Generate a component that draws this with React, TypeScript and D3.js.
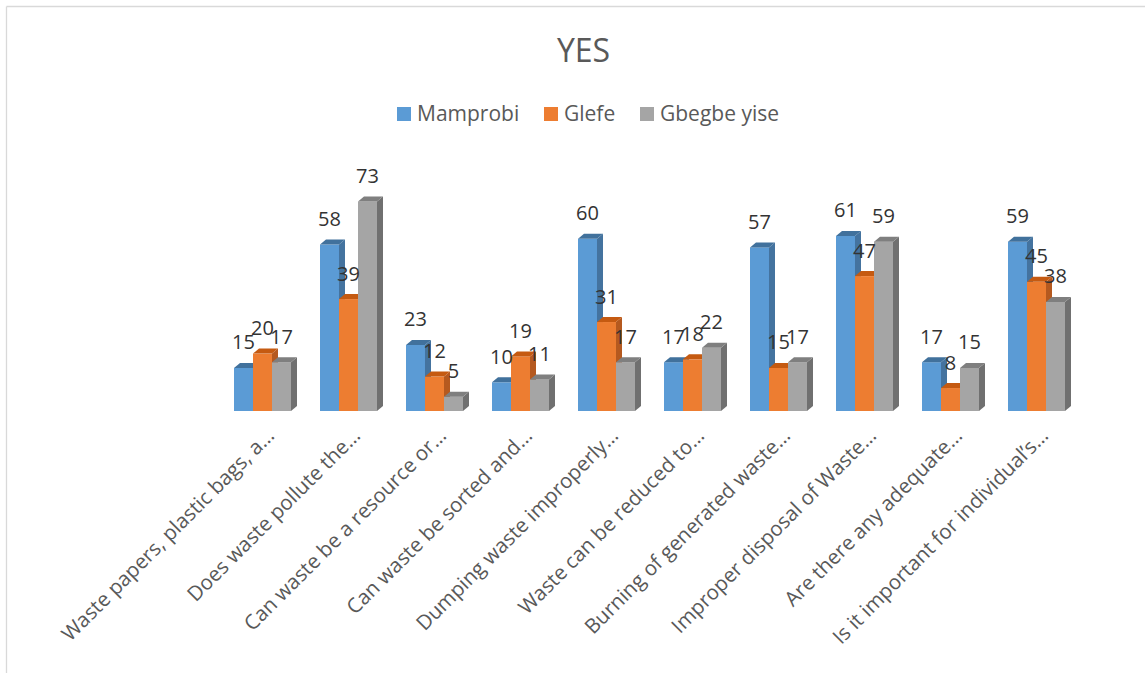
import React from "react";
import * as d3 from "d3";

const categories = [
  "Waste papers, plastic bags, a…",
  "Does waste pollute the…",
  "Can waste be a resource or…",
  "Can waste be sorted and…",
  "Dumping waste improperly…",
  "Waste can be reduced to…",
  "Burning of generated waste…",
  "Improper disposal of Waste…",
  "Are there any adequate…",
  "Is it important for individual’s…",
];
const seriesNames = ["Mamprobi", "Glefe", "Gbegbe yise"];
const mamprobi = [15, 58, 23, 10, 60, 17, 57, 61, 17, 59];
const glefe = [20, 39, 12, 19, 31, 18, 15, 47, 8, 45];
const gbegbe = [17, 73, 5, 11, 17, 22, 17, 59, 15, 38];
const seriesValues = [mamprobi, glefe, gbegbe];

const frontColors = ["#5B9BD5", "#ED7D31", "#A5A5A5"];
const topColors = ["#41719C", "#C55A11", "#7F7F7F"];
const sideColors = ["#44739F", "#B5591F", "#707070"];

const W = 1145;
const H = 673;
const DX = 6;
const DY = 5;

export default function App() {
  const x = d3
    .scaleBand<string>()
    .domain(categories)
    .range([219.5, 1079.5])
    .paddingInner(0.3372)
    .paddingOuter(0.1686);
  const xs = d3
    .scaleBand<string>()
    .domain(seriesNames)
    .range([0, x.bandwidth()])
    .padding(0);
  const y = d3.scaleLinear().domain([0, 80]).range([411, 411 - 2.87 * 80]);
  const y0 = y(0);
  const w = xs.bandwidth();
  const font = "'Open Sans', sans-serif";

  const legendX = [397, 544, 640];

  return (
    <svg
      width={W}
      height={H}
      style={{ position: "absolute", left: 0, top: 0, background: "#fff" }}
      fontFamily={font}
    >
      <rect x={0} y={0} width={W} height={H} fill="#fff" />
      <line x1={6.5} y1={6.5} x2={W} y2={6.5} stroke="#D9D9D9" strokeWidth={1.3} />
      <line x1={6.5} y1={6.5} x2={6.5} y2={H} stroke="#D9D9D9" strokeWidth={1.3} />

      <text x={583.5} y={62} textAnchor="middle" fontSize={32} fill="#595959">
        YES
      </text>

      {seriesNames.map((s, i) => (
        <g key={s}>
          <rect x={legendX[i]} y={107} width={14} height={14} fill={frontColors[i]} />
          <text x={legendX[i] + 20} y={121} fontSize={21} fill="#595959">
            {s}
          </text>
        </g>
      ))}

      {categories.map((c, ci) => (
        <g key={c}>
          {seriesNames.map((s, si) => {
            const bx = (x(c) ?? 0) + (xs(s) ?? 0);
            const yt = y(seriesValues[si][ci]);
            return (
              <g key={s}>
                <rect x={bx} y={yt} width={w} height={y0 - yt} fill={frontColors[si]} />
                <polygon
                  points={`${bx + w},${yt} ${bx + w + DX},${yt - DY} ${bx + w + DX},${y0 - DY} ${bx + w},${y0}`}
                  fill={sideColors[si]}
                />
                <polygon
                  points={`${bx},${yt} ${bx + w},${yt} ${bx + w + DX},${yt - DY} ${bx + DX},${yt - DY}`}
                  fill={topColors[si]}
                />
              </g>
            );
          })}
        </g>
      ))}

      {categories.map((c, ci) => (
        <g key={c + "-lbl"}>
          {seriesNames.map((s, si) => {
            const bx = (x(c) ?? 0) + (xs(s) ?? 0);
            const yt = y(seriesValues[si][ci]);
            return (
              <text
                key={s}
                x={bx + w / 2}
                y={yt - 18.5}
                textAnchor="middle"
                fontSize={20}
                fill="#333333"
              >
                {seriesValues[si][ci]}
              </text>
            );
          })}
        </g>
      ))}

      {categories.map((c) => {
        const cx = (x(c) ?? 0) + x.bandwidth() / 2 + 13;
        const cy = 437;
        return (
          <text
            key={c + "-ax"}
            transform={`translate(${cx},${cy}) rotate(-45)`}
            textAnchor="end"
            fontSize={20.5}
            fill="#595959"
          >
            {c}
          </text>
        );
      })}
    </svg>
  );
}
